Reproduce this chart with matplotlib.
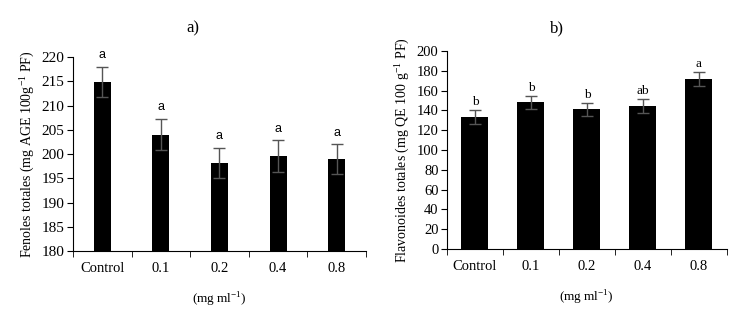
import numpy as np
import matplotlib.pyplot as plt

plt.rcParams['font.family'] = ['Liberation Serif', 'DejaVu Serif']
plt.rcParams['mathtext.fontset'] = 'custom'
plt.rcParams['mathtext.rm'] = 'Liberation Serif'

categories = ['Control', '0.1', '0.2', '0.4', '0.8']

# a) fenoles totales
fen_vals = [214.8, 204.0, 198.2, 199.6, 198.9]
fen_err = [3.1, 3.2, 3.1, 3.2, 3.1]
fen_letters = ['a', 'a', 'a', 'a', 'a']

# b) flavonoides totales
flav_vals = [133, 148, 141, 144.5, 172]
flav_err = [7, 7, 6.5, 7, 7]
flav_letters = ['b', 'b', 'b', 'ab', 'a']

fig = plt.figure(figsize=(7.29, 3.17), dpi=100)
ax1 = fig.add_axes([0.100, 0.208, 0.402, 0.612])
ax2 = fig.add_axes([0.613, 0.215, 0.384, 0.624])

x = np.arange(len(categories))


def draw(ax, vals, err, letters, width, ylim, yticks, ylabel, letter_off, letter_font,
         letter_size, ysize):
    ax.bar(x, vals, width=width, color='black', zorder=2)
    ax.errorbar(x, vals, yerr=err, fmt='none', ecolor='#555555', elinewidth=1,
                capsize=4, capthick=1, zorder=3)
    for i in range(len(x)):
        ax.text(x[i], vals[i] + err[i] + letter_off, letters[i], ha='center', va='bottom',
                fontsize=letter_size, family=letter_font)
    ax.set_xlim(-0.5, len(x) - 0.5)
    ax.set_ylim(*ylim)
    ax.set_yticks(yticks)
    ax.set_xticks(x)
    ax.set_xticklabels(categories)
    ax.set_xticks(np.arange(-0.5, len(x)), minor=True)
    ax.tick_params(axis='x', which='major', length=0, pad=8, labelsize=10.5)
    ax.tick_params(axis='x', which='minor', length=4, direction='out')
    ax.tick_params(axis='y', length=4, direction='out', labelsize=ysize, pad=2)
    ax.spines['top'].set_visible(False)
    ax.spines['right'].set_visible(False)
    ax.set_ylabel(ylabel, fontsize=10, labelpad=4)
    ax.set_xlabel('(mg ml$^{-1}$)', fontsize=9.5, labelpad=11)


draw(ax1, fen_vals, fen_err, fen_letters, 0.29, (180, 220), np.arange(180, 221, 5),
     'Fenoles totales (mg AGE 100g$^{-1}$ PF)', 1.2, ['Liberation Sans'], 9, 11)
draw(ax2, flav_vals, flav_err, flav_letters, 0.48, (0, 200), np.arange(0, 201, 20),
     'Flavonoides totales (mg QE 100 g$^{-1}$ PF)', 2, ['Liberation Serif'], 9.5, 10.5)

fig.text(0.265, 0.91, 'a)', ha='center', va='center', fontsize=12)
fig.text(0.764, 0.91, 'b)', ha='center', va='center', fontsize=12)

fig.savefig('out.png', dpi=100)
